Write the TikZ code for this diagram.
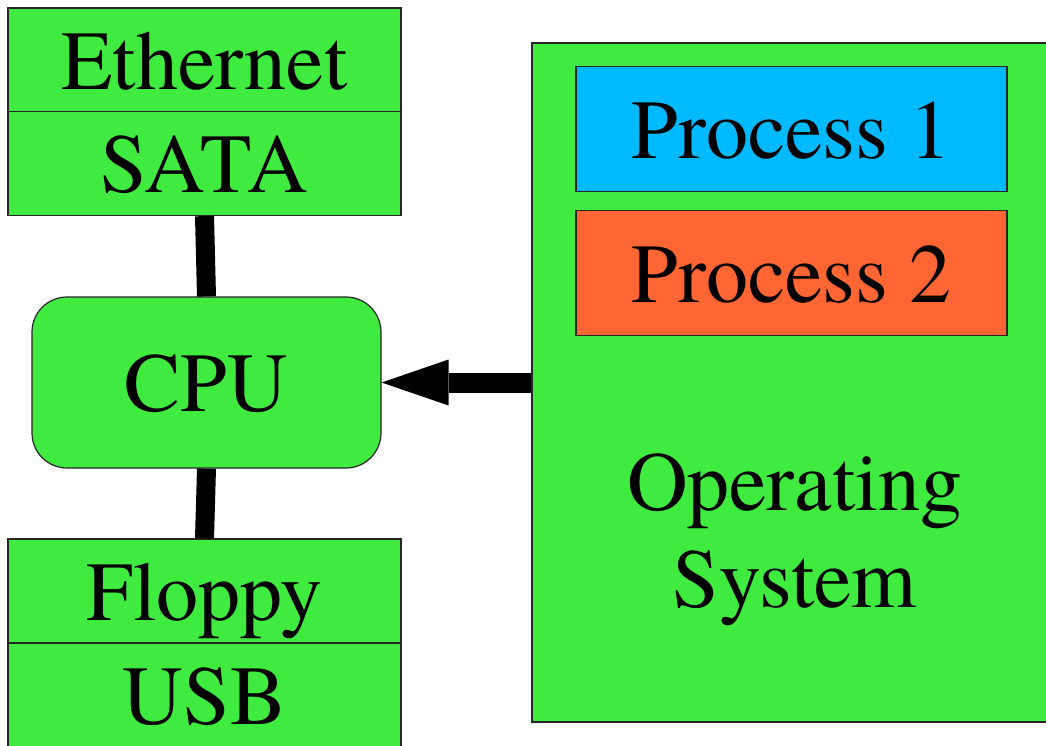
\documentclass[tikz,border=0pt]{standalone}
\usepackage{fontspec}
\setmainfont{texgyretermes}[Extension=.otf, UprightFont=*-regular, BoldFont=*-bold, ItalicFont=*-italic, BoldItalicFont=*-bolditalic]
\usetikzlibrary{arrows.meta}
\definecolor{boxgreen}{HTML}{3FEB3F}
\definecolor{procblue}{HTML}{00BAFF}
\definecolor{procorange}{HTML}{FF6633}
\begin{document}
\begin{tikzpicture}[x=1pt,y=-1pt,
  box/.style={draw=black!85, line width=1.2pt, fill=boxgreen, inner sep=0pt,
    text height=60pt, text depth=2pt, font=\rmfamily\fontsize{84pt}{97pt}\selectfont},
  devbox/.style={box, minimum width=393pt, minimum height=104pt},
  procbox/.style={box, minimum width=431pt, minimum height=125pt},
  wire/.style={line width=19pt},
  ]
\clip (0,0) rectangle (1046,745);
\fill[white] (0,0) rectangle (1046,745);
% OS container
\node[box, minimum width=520pt, minimum height=679pt, text height=0pt, text depth=0pt] (os) at (792,382.5) {};
\node[procbox, fill=procblue] (p1) at (791.5,129) {Process 1};
\node[procbox, fill=procorange] (p2) at (791.5,273) {Process 2};
\node[anchor=base, align=center, inner sep=0pt, font=\rmfamily\fontsize{84pt}{97pt}\selectfont] (osl) at (795,607) {Operating\\System};
% devices
\node[devbox] (eth) at (204.5,60) {Ethernet};
\node[devbox] (sata) at (204.5,163.5) {SATA};
\node[box, minimum width=349pt, minimum height=171pt, rounded corners=35pt] (cpu) at (206.5,382.5) {CPU};
\node[devbox] (floppy) at (204.5,591) {Floppy};
\node[devbox] (usb) at (204.5,695) {USB};
% connectors
\draw[wire] (sata.south) -- (cpu.north);
\draw[wire] (floppy.north) -- (cpu.south);
\draw[line width=20pt, -{Triangle[length=67pt,width=46pt,line width=0pt]}] (os.west) -- (cpu.east);
\end{tikzpicture}
\end{document}
